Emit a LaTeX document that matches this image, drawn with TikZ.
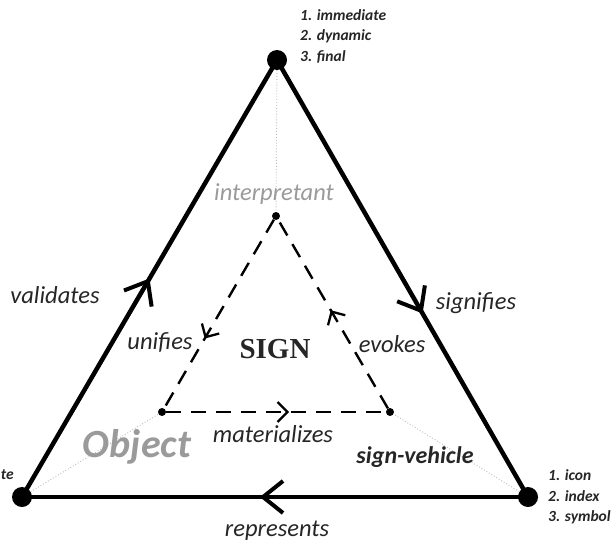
\documentclass[tikz,border=0pt]{standalone}
\usepackage{fontspec}
\setmainfont{Carlito}
\newfontfamily\signfont{Liberation Serif}
\usetikzlibrary{arrows.meta,decorations.markings}
\definecolor{txt}{HTML}{262626}
\definecolor{ltgray}{HTML}{BBBBBB}
\definecolor{midgray}{HTML}{9A9A9A}
\begin{document}
\begin{tikzpicture}[x=1pt,y=-1pt,
  bigdot/.style={circle,fill=black,inner sep=0pt,minimum size=20pt},
  smalldot/.style={circle,fill=black,inner sep=0pt,minimum size=8pt},
  outeredge/.style={line width=4.5pt},
  inneredge/.style={line width=2.4pt,dash pattern=on 15pt off 10pt},
  guide/.style={draw=ltgray,line width=0.9pt,dotted},
  lbl/.style={font=\itshape\fontsize{24.5}{24.5}\selectfont,text=txt,inner sep=0pt},
  lblb/.style={font=\bfseries\itshape\fontsize{24}{24}\selectfont,text=txt,inner sep=0pt},
  listlbl/.style={font=\bfseries\itshape\fontsize{15.5}{20.5}\selectfont,text=txt,inner sep=0pt,align=left},
  bigarrow/.style={postaction={decorate},decoration={markings,mark=at position #1 with {\arrow{Straight Barb[length=20pt,width=32pt,line width=4pt]}}}},
  smallarrow/.style={postaction={decorate},decoration={markings,mark=at position #1 with {\arrow{Straight Barb[length=10pt,width=20pt,line width=2.3pt]}}}}
]
\useasboundingbox (0,0) rectangle (615,543);
% outer vertices
\node[bigdot] (I) at (277,60) {};
\node[bigdot] (O) at (22,497) {};
\node[bigdot] (S) at (528,497) {};
% inner vertices
\node[smalldot] (i) at (276,216) {};
\node[smalldot] (o) at (162,412) {};
\node[smalldot] (s) at (390,412) {};
% guides
\draw[guide] (I) -- (i);
\draw[guide] (O) -- (o);
\draw[guide] (S) -- (s);
% outer edges
\draw[outeredge,bigarrow=0.5] (O.center) -- (I.center);
\draw[outeredge,bigarrow=0.58] (I.center) -- (S.center);
\draw[outeredge,bigarrow=0.53] (S.center) -- (O.center);
% inner edges
\draw[inneredge,smallarrow=0.63] (i) -- (o);
\draw[inneredge,smallarrow=0.56] (o) -- (s);
\draw[inneredge,smallarrow=0.52] (s) -- (i);
% labels
\node[lbl] (lval) at (55,295) {validates};
\node[lbl] (lsig) at (476,303) {signifies};
\node[lbl] (luni) at (160,342) {unifies};
\node[lbl] (levo) at (392,344) {evokes};
\node[font=\signfont\bfseries\fontsize{29}{29}\selectfont,text=txt,inner sep=0pt] (lsign) at (275,349) {SIGN};
\node[lbl,text=midgray] (lint) at (274,194) {interpretant};
\node[lbl] (lmat) at (273,434) {materializes};
\node[lblb] (lveh) at (415,457) {sign-vehicle};
\node[lbl] (lrep) at (277,531) {represents};
\node[font=\bfseries\itshape\fontsize{40}{40}\selectfont,text=midgray,inner sep=0pt] (lobj) at (137,447) {Object};
\node[listlbl,anchor=west] (ltop) at (300,36) {1. immediate\\2. dynamic\\3. final};
\node[listlbl,anchor=west] (lright) at (548,497) {1. icon\\2. index\\3. symbol};
\node[listlbl,anchor=east] (lleft) at (14,475) {te};
\end{tikzpicture}
\end{document}
